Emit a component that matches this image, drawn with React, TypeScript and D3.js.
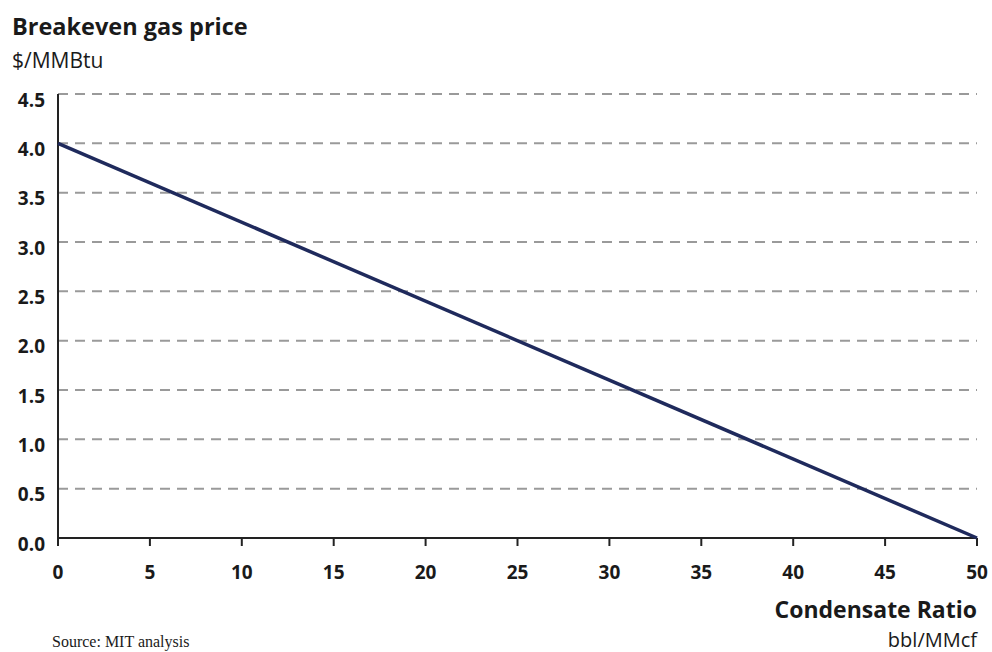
import React, { useEffect, useRef } from 'react';
import * as d3 from 'd3';

// condensate ratio (bbl/MMcf) vs breakeven gas price ($/MMBtu)
const condensateRatio = [0, 50];
const breakevenPrice = [4.0, 0.0];
const xTicks = [0, 5, 10, 15, 20, 25, 30, 35, 40, 45, 50];
const yTicks = [0, 0.5, 1.0, 1.5, 2.0, 2.5, 3.0, 3.5, 4.0, 4.5];

const W = 992;
const H = 652;

const App: React.FC = () => {
  const svgRef = useRef<SVGSVGElement>(null);

  useEffect(() => {
    if (!svgRef.current) return;
    const svg = d3.select(svgRef.current);
    svg.selectAll('*').remove();

    const font = '"Open Sans", "Noto Sans", sans-serif';
    const margin = { top: 94, right: 15, bottom: 114, left: 58 };
    const innerW = W - margin.left - margin.right;
    const innerH = H - margin.top - margin.bottom;

    const x = d3.scaleLinear().domain([0, 50]).range([0, innerW]);
    const y = d3.scaleLinear().domain([0, 4.5]).range([innerH, 0]);

    const g = svg.append('g')
      .attr('transform', `translate(${margin.left},${margin.top})`);

    // dashed gridlines
    g.selectAll('line.grid')
      .data(yTicks.filter(d => d > 0))
      .enter().append('line')
      .attr('class', 'grid')
      .attr('x1', 0).attr('x2', innerW)
      .attr('y1', d => y(d)).attr('y2', d => y(d))
      .attr('stroke', '#9a9a9a')
      .attr('stroke-width', 2)
      .attr('stroke-dasharray', '10,7');

    // y axis labels
    g.selectAll('text.ylab')
      .data(yTicks)
      .enter().append('text')
      .attr('class', 'ylab')
      .attr('x', -13)
      .attr('y', d => y(d) + 6)
      .attr('dy', '0.35em')
      .attr('text-anchor', 'end')
      .attr('font-family', font)
      .attr('font-weight', 700)
      .attr('font-size', 19)
      .attr('fill', '#1a1a1a')
      .text(d => d3.format('.1f')(d));

    // x ticks and labels
    g.selectAll('line.xtick')
      .data(xTicks)
      .enter().append('line')
      .attr('class', 'xtick')
      .attr('x1', d => x(d)).attr('x2', d => x(d))
      .attr('y1', innerH).attr('y2', innerH + 8)
      .attr('stroke', '#222')
      .attr('stroke-width', 2);

    g.selectAll('text.xlab')
      .data(xTicks)
      .enter().append('text')
      .attr('class', 'xlab')
      .attr('x', d => x(d))
      .attr('y', innerH + 34)
      .attr('dy', '0.35em')
      .attr('text-anchor', 'middle')
      .attr('font-family', font)
      .attr('font-weight', 700)
      .attr('font-size', 19)
      .attr('fill', '#1a1a1a')
      .text(d => String(d));

    // axes
    g.append('line')
      .attr('x1', 0).attr('x2', 0)
      .attr('y1', 0).attr('y2', innerH)
      .attr('stroke', '#222').attr('stroke-width', 2);
    g.append('line')
      .attr('x1', 0).attr('x2', innerW)
      .attr('y1', innerH).attr('y2', innerH)
      .attr('stroke', '#222').attr('stroke-width', 2);

    // the line
    const pts = condensateRatio.map((c, i) => [c, breakevenPrice[i]] as [number, number]);
    const line = d3.line<[number, number]>()
      .x(d => x(d[0]))
      .y(d => y(d[1]));
    g.append('path')
      .datum(pts)
      .attr('fill', 'none')
      .attr('stroke', '#1f2a5c')
      .attr('stroke-width', 3.5)
      .attr('d', line);

    // titles
    svg.append('text')
      .attr('x', 12).attr('y', 35)
      .attr('font-family', font).attr('font-weight', 700).attr('font-size', 23.5)
      .attr('fill', '#1a1a1a')
      .text('Breakeven gas price');
    svg.append('text')
      .attr('x', 12).attr('y', 68)
      .attr('font-family', font).attr('font-size', 21)
      .attr('fill', '#1a1a1a')
      .text('$/MMBtu');

    svg.append('text')
      .attr('x', 977).attr('y', 618)
      .attr('text-anchor', 'end')
      .attr('font-family', font).attr('font-weight', 700).attr('font-size', 23)
      .attr('fill', '#1a1a1a')
      .text('Condensate Ratio');
    svg.append('text')
      .attr('x', 977).attr('y', 647)
      .attr('text-anchor', 'end')
      .attr('font-family', font).attr('font-size', 20)
      .attr('fill', '#1a1a1a')
      .text('bbl/MMcf');

    svg.append('text')
      .attr('x', 52).attr('y', 647)
      .attr('font-family', '"Liberation Serif", "DejaVu Serif", serif')
      .attr('font-size', 16)
      .attr('fill', '#1a1a1a')
      .text('Source: MIT analysis');
  }, []);

  return (
    <svg
      ref={svgRef}
      width={W}
      height={H}
      style={{ position: 'absolute', left: 0, top: 0, background: '#fff' }}
    />
  );
};

export default App;
